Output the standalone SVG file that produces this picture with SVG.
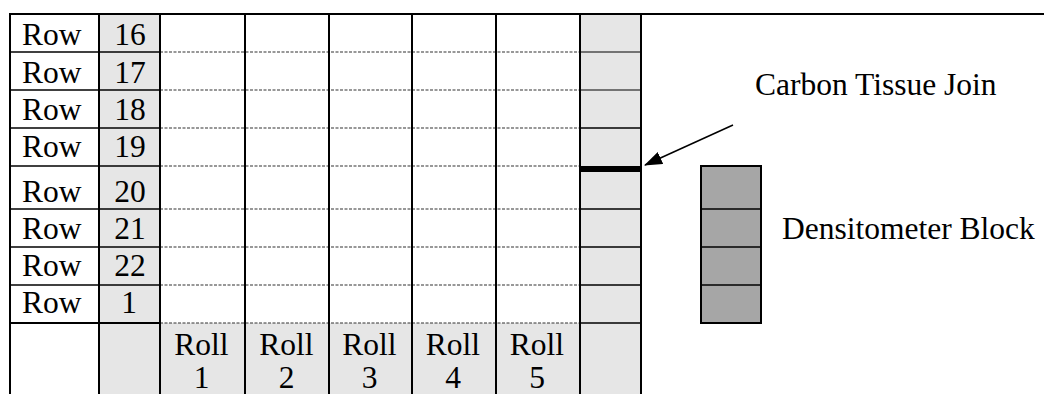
<svg xmlns="http://www.w3.org/2000/svg" width="1044" height="394" viewBox="0 0 1044 394">
<style>
  text { font-family: "Liberation Serif", "Times New Roman", serif; font-size: 31.5px; fill: #000; }
  .c { text-anchor: middle; }
  .lite { fill: #e6e6e6; }
  .v { stroke: #000; stroke-width: 2; }
  .hs { stroke: #000; stroke-width: 1.5; }
  .hd { stroke: #333; stroke-width: 1.2; stroke-dasharray: 3 1.5; }
  .ht { stroke: #000; stroke-width: 1; }
</style>
<defs>
  <marker id="ah" markerUnits="userSpaceOnUse" markerWidth="18" markerHeight="13" refX="17" refY="6.5" orient="auto">
    <path d="M0,0 L18,6.5 L0,13 z" fill="#000"/>
  </marker>
</defs>
<rect width="1044" height="394" fill="#fff"/>

<g id="table">
  <rect class="lite" x="99" y="14" width="61" height="380"/>
  <rect class="lite" x="580" y="14" width="61" height="380"/>
  <rect class="lite" x="160" y="323" width="420" height="71"/>
  <g>
    <line class="hd" x1="160" y1="52" x2="580" y2="52"/>
    <line class="hd" x1="160" y1="90" x2="580" y2="90"/>
    <line class="hd" x1="160" y1="128" x2="580" y2="128"/>
    <line class="hd" x1="160" y1="166" x2="580" y2="166"/>
    <line class="hd" x1="160" y1="209" x2="580" y2="209"/>
    <line class="hd" x1="160" y1="247" x2="580" y2="247"/>
    <line class="hd" x1="160" y1="285" x2="580" y2="285"/>
    <line class="hd" x1="160" y1="323" x2="580" y2="323"/>
  </g>
  <g>
    <line class="hs" x1="10" y1="52" x2="160" y2="52"/>
    <line class="hs" x1="10" y1="90" x2="160" y2="90"/>
    <line class="hs" x1="10" y1="128" x2="160" y2="128"/>
    <line class="hs" x1="10" y1="166" x2="160" y2="166"/>
    <line class="hs" x1="10" y1="209" x2="160" y2="209"/>
    <line class="hs" x1="10" y1="247" x2="160" y2="247"/>
    <line class="hs" x1="10" y1="285" x2="160" y2="285"/>
    <line class="v" x1="10" y1="323" x2="160" y2="323"/>
  </g>
  <g>
    <line class="ht" x1="580" y1="52" x2="641" y2="52"/>
    <line class="ht" x1="580" y1="90" x2="641" y2="90"/>
    <line class="hs" x1="580" y1="128" x2="641" y2="128"/>
    <rect id="join" x="580" y="166" width="61" height="6" fill="#000"/>
    <line class="hs" x1="580" y1="209" x2="641" y2="209"/>
    <line class="hs" x1="580" y1="247" x2="641" y2="247"/>
    <line class="hs" x1="580" y1="285" x2="641" y2="285"/>
    <line class="hs" x1="580" y1="323" x2="641" y2="323"/>
  </g>
  <g>
    <line class="v" x1="10" y1="14" x2="10" y2="394"/>
    <line class="v" x1="99" y1="14" x2="99" y2="394"/>
    <line class="v" x1="160" y1="14" x2="160" y2="394"/>
    <line class="v" x1="245" y1="14" x2="245" y2="394"/>
    <line class="v" x1="329" y1="14" x2="329" y2="394"/>
    <line class="v" x1="412" y1="14" x2="412" y2="394"/>
    <line class="v" x1="496" y1="14" x2="496" y2="394"/>
    <line class="v" x1="580" y1="14" x2="580" y2="394"/>
    <line class="v" x1="641" y1="14" x2="641" y2="394"/>
  </g>
  <line class="v" x1="9" y1="14" x2="1044" y2="14"/>

  <g id="row-labels">
    <text x="22" y="45">Row</text><text class="c" x="130" y="45">16</text>
    <text x="22" y="83">Row</text><text class="c" x="130" y="83">17</text>
    <text x="22" y="120">Row</text><text class="c" x="130" y="120">18</text>
    <text x="22" y="157">Row</text><text class="c" x="130" y="157">19</text>
    <text x="22" y="202">Row</text><text class="c" x="130" y="202">20</text>
    <text x="22" y="239">Row</text><text class="c" x="130" y="239">21</text>
    <text x="22" y="276">Row</text><text class="c" x="130" y="276">22</text>
    <text x="22" y="313">Row</text><text class="c" x="129" y="313">1</text>
  </g>
  <g id="roll-labels">
    <text class="c" x="201.5" y="355">Roll</text><text class="c" x="201.5" y="388">1</text>
    <text class="c" x="286.5" y="355">Roll</text><text class="c" x="286.5" y="388">2</text>
    <text class="c" x="369.5" y="355">Roll</text><text class="c" x="369.5" y="388">3</text>
    <text class="c" x="453" y="355">Roll</text><text class="c" x="453" y="388">4</text>
    <text class="c" x="537" y="355">Roll</text><text class="c" x="537" y="388">5</text>
  </g>
</g>

<g id="connectors">
  <line x1="733" y1="125" x2="645" y2="165" stroke="#000" stroke-width="1.5" marker-end="url(#ah)"/>
</g>

<g id="carbon-label">
  <text x="755" y="95">Carbon Tissue Join</text>
</g>

<g id="densitometer">
  <rect x="701" y="166" width="60" height="157" fill="#a6a6a6" stroke="#000" stroke-width="2"/>
  <line class="hs" x1="701" y1="209" x2="761" y2="209"/>
  <line class="hs" x1="701" y1="247" x2="761" y2="247"/>
  <line class="hs" x1="701" y1="285" x2="761" y2="285"/>
  <text x="782" y="239">Densitometer Block</text>
</g>
</svg>
